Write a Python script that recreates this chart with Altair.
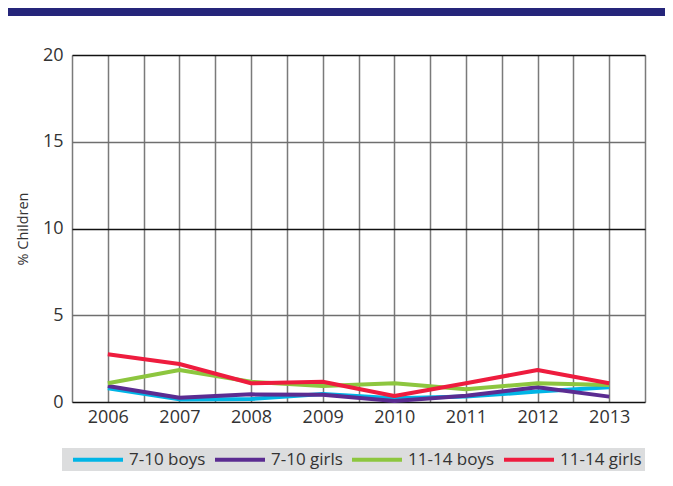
import altair as alt
import pandas as pd

years = [2006, 2007, 2008, 2009, 2010, 2011, 2012, 2013]
series_names = ["7-10 boys", "7-10 girls", "11-14 boys", "11-14 girls"]
series_colors = ["#00B5E6", "#5B2C91", "#8DC63F", "#EE1C3E"]
boys_7_10 = [0.79, 0.15, 0.17, 0.46, 0.21, 0.31, 0.60, 0.85]
girls_7_10 = [0.92, 0.25, 0.44, 0.42, 0.06, 0.36, 0.85, 0.31]
boys_11_14 = [1.08, 1.84, 1.17, 0.92, 1.08, 0.73, 1.08, 0.98]
girls_11_14 = [2.75, 2.19, 1.08, 1.17, 0.35, 1.08, 1.84, 1.08]
y_ticks = [0, 5, 10, 15, 20]
x_grid = [2005.5 + 0.5 * i for i in range(17)]

values = [boys_7_10, girls_7_10, boys_11_14, girls_11_14]
rows = []
for name, vals in zip(series_names, values):
    for yr, v in zip(years, vals):
        rows.append({"year": yr, "value": v, "series": name})
df = pd.DataFrame(rows)

FONT = "Open Sans"

lines = alt.Chart(df).mark_line(strokeWidth=4, strokeJoin="round").encode(
    x=alt.X("year:Q",
            scale=alt.Scale(domain=[2005.5, 2013.5], nice=False, zero=False),
            axis=alt.Axis(values=x_grid, title=None, ticks=False, domain=False,
                          labelExpr="datum.value % 1 == 0 ? toString(datum.value) : ''",
                          labelFontSize=18, labelFont=FONT, labelColor="#333333",
                          labelPadding=6, labelFlush=False, labelOverlap=False,
                          grid=True, gridColor="#7a7a7a", gridWidth=1.5)),
    y=alt.Y("value:Q",
            scale=alt.Scale(domain=[0, 20], nice=False),
            axis=alt.Axis(values=y_ticks, title="% Children", ticks=False, domain=False,
                          labelFontSize=18, labelFont=FONT, labelColor="#333333",
                          labelPadding=9,
                          titleFont=FONT, titleFontSize=14.5, titleFontWeight="normal",
                          titleColor="#333333", titleX=-49, titleY=173.5,
                          titleAngle=270, titleBaseline="middle", titleAlign="center",
                          grid=True,
                          gridColor={"condition": {"test": "datum.value % 10 === 0", "value": "#111111"},
                                     "value": "#6f6f6f"},
                          gridWidth=1.4)),
    color=alt.Color("series:N",
                    scale=alt.Scale(domain=series_names, range=series_colors),
                    sort=series_names,
                    legend=alt.Legend(title=None, orient="none", direction="horizontal",
                                      legendX=-10, legendY=393,
                                      fillColor="#DCDDDE", padding=3,
                                      symbolType="M-0.1,0H9.9", symbolSize=100,
                                      symbolStrokeWidth=4, labelOffset=47,
                                      labelFont=FONT, labelFontSize=17, labelColor="#333333",
                                      columnPadding=1)),
    order=alt.Order("year:Q"),
)

band = alt.Chart(pd.DataFrame({"a": [0]})).mark_rect(color="#25257A").encode(
    x=alt.value(-64), x2=alt.value(593), y=alt.value(-47), y2=alt.value(-39)
)

chart = alt.layer(band, lines).properties(
    width=573, height=347,
    autosize=alt.AutoSizeParams(type="none"),
    padding={"left": 64, "top": 47, "right": 20, "bottom": 76},
).configure_view(stroke="#111111", strokeWidth=1.5).configure(background="white")

chart.save("out.html", embed_options={"renderer": "svg", "actions": False})
